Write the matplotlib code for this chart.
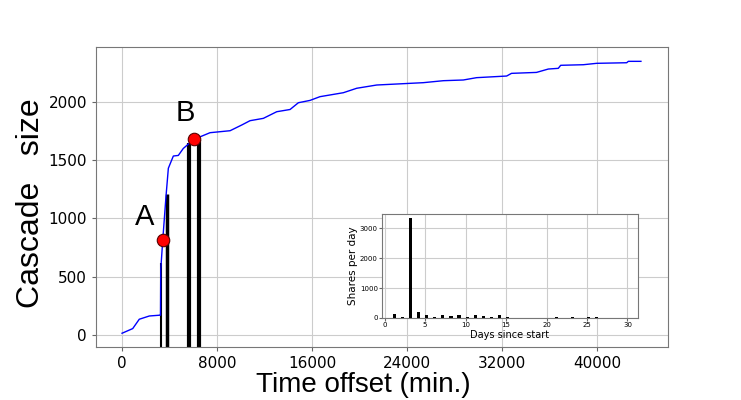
import matplotlib.pyplot as plt

# Cumulative cascade size over time (minutes)
time_min = [0, 900, 1450, 2300, 3200, 3240, 3260, 3427, 3700, 3900, 4320, 4740,
            5160, 5730, 6063, 7410, 9100, 10080, 10780, 11900, 13030, 14150,
            14850, 15830, 16670, 18640, 19760, 21450, 25370, 27060, 28740,
            29860, 32390, 32800, 34900, 35900, 36740, 36940, 38850, 39970,
            42500, 42640, 43700]
cascade = [15, 55, 135, 163, 170, 170, 560, 812, 1186, 1430, 1535, 1540,
           1600, 1650, 1678, 1735, 1752, 1801, 1838, 1858, 1915, 1934,
           1992, 2012, 2044, 2078, 2116, 2144, 2164, 2181, 2187,
           2207, 2221, 2244, 2252, 2281, 2287, 2313, 2318, 2330,
           2335, 2347, 2347]

# Vertical markers
bar_times = [3240, 3795, 5651, 6470]
bar_heights = [615, 1209, 1650, 1670]
bar_widths = [1.5, 2.5, 3, 3]

# Highlighted points
point_labels = ['A', 'B']
point_times = [3427, 6063]
point_sizes = [812, 1678]
label_pos = [(1915, 1012), (5370, 1904)]

# Inset: shares per day
days = list(range(1, 31))
shares = [130, 40, 3350, 190, 90, 40, 90, 55, 85, 45, 90, 55, 45, 100, 40,
          12, 0, 0, 15, 0, 30, 0, 30, 0, 30, 30, 0, 15, 0, 12]

fig = plt.figure(figsize=(7.41, 4.0), dpi=100)
ax = fig.add_axes([0.1296, 0.1325, 0.7719, 0.75])

ax.plot(time_min, cascade, color='blue', linewidth=1, zorder=3)
for t, h, w in zip(bar_times, bar_heights, bar_widths):
    ax.vlines(t, -300, h, color='black', linewidth=w, zorder=2)
ax.plot(point_times, point_sizes, 'o', color='red', markersize=9,
        markeredgecolor='#550000', markeredgewidth=0.8, zorder=4)
for lab, (lx, ly) in zip(point_labels, label_pos):
    ax.text(lx, ly, lab, fontsize=21, family='Liberation Sans',
            ha='center', va='center')

ax.set_xlim(-2190, 45980)
ax.set_ylim(-103, 2470)
ax.set_xticks([0, 8000, 16000, 24000, 32000, 40000])
ax.set_yticks([0, 500, 1000, 1500, 2000])
ax.tick_params(labelsize=11, color='#666666', length=3)
ax.grid(True, color='#cccccc', linewidth=0.8)
ax.set_axisbelow(True)
for s in ax.spines.values():
    s.set_color('#777777')
ax.set_xlabel('Time offset (min.)', fontsize=20, family='Liberation Sans')
ax.xaxis.set_label_coords(0.4677, -0.083)
ax.set_ylabel('Cascade   size', fontsize=23, family='Liberation Sans')
ax.yaxis.set_label_coords(-0.0874, 0.478)

# Inset
ins = fig.add_axes([0.5155, 0.205, 0.3455, 0.26])
ins.bar(days, shares, width=0.4, align='edge', color='black', zorder=3)
ins.set_xlim(-0.32, 31.3)
ins.set_ylim(0, 3480)
ins.set_xticks([0, 5, 10, 15, 20, 25, 30])
ins.set_yticks([0, 1000, 2000, 3000])
ins.tick_params(labelsize=5, color='#666666', length=2, pad=1)
ins.grid(True, color='#cccccc', linewidth=0.8)
ins.set_axisbelow(True)
for s in ins.spines.values():
    s.set_color('#777777')
ins.set_xlabel('Days since start', fontsize=7, labelpad=1)
ins.set_ylabel('Shares per day', fontsize=7.5, labelpad=1)

fig.savefig('out.png', dpi=100)
